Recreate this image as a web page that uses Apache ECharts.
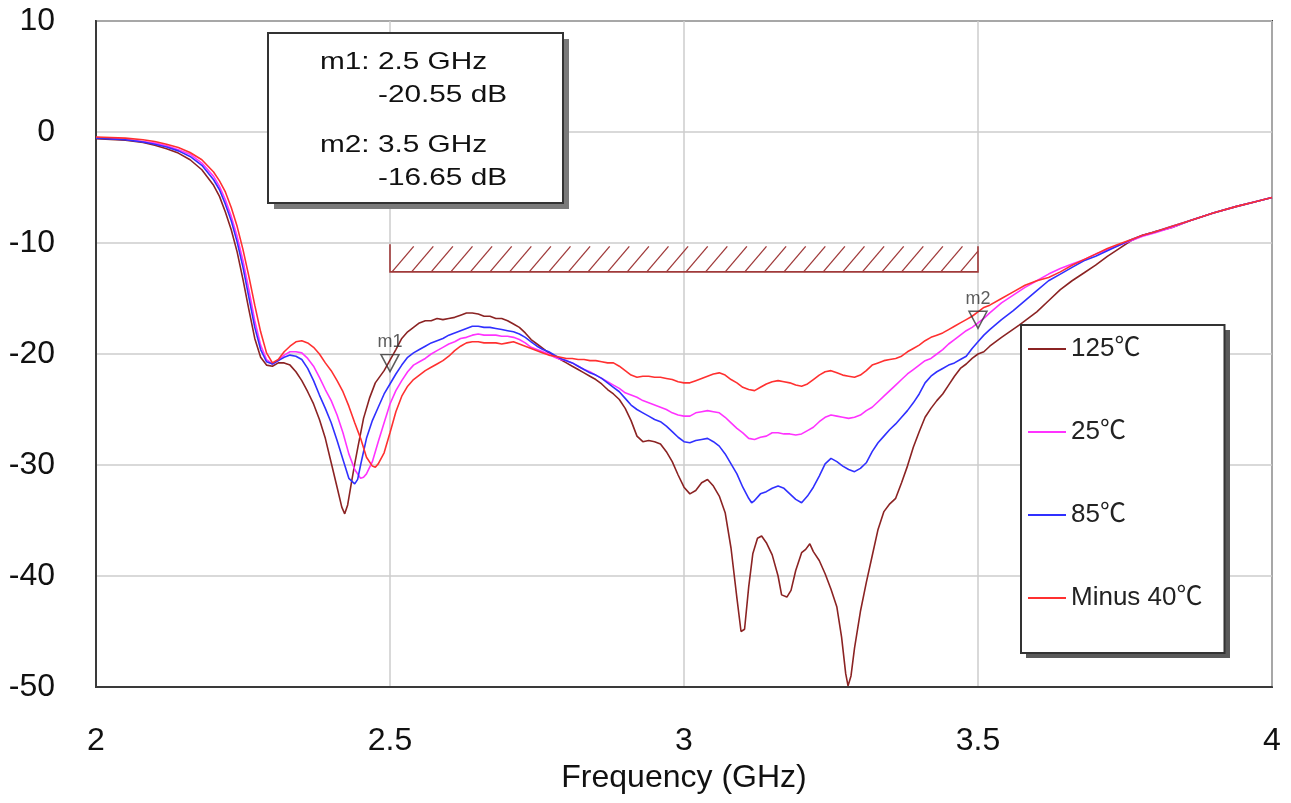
<!DOCTYPE html>
<html>
<head>
<meta charset="utf-8">
<script src="https://cdn.jsdelivr.net/npm/echarts@6/dist/echarts.min.js"></script>
<style>
  html, body { margin: 0; padding: 0; background: #ffffff; }
  #chart { width: 1291px; height: 803px; }
</style>
</head>
<body>
<div id="chart"></div>
<script>
// S11 of the filter over temperature, 2–4 GHz sweep
const FONT = '"Liberation Sans", Arial, "Noto Sans CJK SC", sans-serif';

const seriesNames = ['125℃', '25℃', '85℃', 'Minus 40℃'];
const seriesColors = ['#8b2323', '#ff33ff', '#3030ff', '#ff3030'];

// [frequency GHz, dB]
const s125 = [
  [2.00,-0.60],[2.05,-0.75],[2.08,-0.95],[2.10,-1.2],[2.12,-1.5],[2.14,-1.9],[2.16,-2.5],[2.18,-3.4],
  [2.20,-4.8],[2.21,-5.8],[2.22,-7.2],[2.23,-8.8],[2.24,-10.8],[2.25,-13.3],[2.26,-16.0],[2.27,-18.6],
  [2.28,-20.3],[2.29,-21.0],[2.30,-21.1],[2.31,-20.8],[2.32,-20.8],[2.33,-21.0],[2.34,-21.6],[2.35,-22.4],
  [2.36,-23.4],[2.37,-24.5],[2.38,-25.9],[2.39,-27.6],[2.40,-29.8],[2.41,-32.0],[2.418,-33.8],[2.423,-34.4],
  [2.428,-33.6],[2.435,-31.4],[2.44,-29.9],[2.445,-28.5],[2.455,-25.8],[2.465,-24.0],[2.475,-22.6],[2.49,-21.5],
  [2.50,-20.55],[2.51,-19.6],[2.52,-18.6],[2.53,-18.0],[2.54,-17.6],[2.55,-17.2],[2.56,-17.0],[2.57,-17.0],
  [2.58,-16.8],[2.59,-16.9],[2.60,-16.8],[2.61,-16.7],[2.62,-16.5],[2.63,-16.3],[2.64,-16.3],[2.65,-16.4],
  [2.66,-16.6],[2.67,-16.6],[2.68,-16.8],[2.69,-16.8],[2.70,-17.0],[2.71,-17.3],[2.72,-17.6],[2.73,-18.1],
  [2.74,-18.7],[2.75,-19.1],[2.76,-19.5],[2.77,-19.9],[2.78,-20.2],[2.79,-20.5],[2.80,-20.8],[2.81,-21.1],
  [2.82,-21.4],[2.83,-21.7],[2.84,-22.0],[2.85,-22.3],[2.86,-22.7],[2.87,-23.2],[2.88,-23.6],[2.89,-24.1],
  [2.90,-24.9],[2.91,-26.0],[2.92,-27.4],[2.93,-27.9],[2.94,-27.8],[2.95,-27.9],[2.96,-28.1],[2.97,-28.8],
  [2.98,-29.7],[2.99,-30.9],[3.00,-32.0],[3.01,-32.6],[3.02,-32.3],[3.03,-31.6],[3.04,-31.3],[3.05,-31.9],
  [3.06,-32.8],[3.07,-34.3],[3.08,-37.5],[3.09,-42.0],[3.097,-45.0],[3.103,-44.8],[3.11,-41.0],[3.117,-38.0],
  [3.125,-36.6],[3.132,-36.4],[3.14,-37.0],[3.15,-38.1],[3.16,-40.0],[3.166,-41.7],[3.175,-41.9],[3.182,-41.3],
  [3.19,-39.5],[3.20,-37.9],[3.207,-37.6],[3.214,-37.1],[3.22,-37.8],[3.23,-38.6],[3.24,-39.8],[3.25,-41.2],
  [3.26,-42.8],[3.268,-45.5],[3.275,-48.8],[3.279,-49.9],[3.284,-49.0],[3.29,-46.5],[3.30,-43.2],[3.31,-40.6],
  [3.32,-38.2],[3.33,-35.8],[3.34,-34.2],[3.35,-33.5],[3.36,-33.0],[3.37,-31.6],[3.38,-30.1],[3.39,-28.4],
  [3.40,-27.0],[3.41,-25.7],[3.42,-24.9],[3.43,-24.2],[3.44,-23.6],[3.45,-22.8],[3.46,-22.0],[3.47,-21.3],
  [3.48,-20.9],[3.49,-20.4],[3.50,-20.0],[3.51,-19.8],[3.52,-19.3],[3.54,-18.5],[3.57,-17.4],[3.60,-16.2],
  [3.62,-15.2],[3.64,-14.2],[3.66,-13.4],[3.68,-12.7],[3.70,-12.0],[3.72,-11.2],[3.74,-10.5],[3.76,-9.8],
  [3.78,-9.3],[3.80,-9.0],[3.83,-8.6],[3.86,-8.0],[3.90,-7.3],[3.94,-6.7],[3.97,-6.3],[4.00,-5.9]
];

const s25 = [
  [2.00,-0.5],[2.05,-0.65],[2.08,-0.85],[2.10,-1.0],[2.12,-1.25],[2.14,-1.6],[2.16,-2.0],[2.18,-2.8],
  [2.20,-4.0],[2.21,-4.9],[2.22,-6.1],[2.23,-7.6],[2.24,-9.4],[2.25,-11.6],[2.26,-14.2],[2.27,-17.0],
  [2.28,-19.2],[2.29,-20.5],[2.30,-20.9],[2.31,-20.6],[2.32,-20.1],[2.33,-19.8],[2.34,-19.8],[2.35,-19.9],
  [2.36,-20.4],[2.37,-21.1],[2.38,-22.1],[2.39,-23.2],[2.40,-24.2],[2.41,-25.5],[2.42,-27.1],[2.43,-29.0],
  [2.44,-30.4],[2.45,-31.2],[2.455,-31.1],[2.46,-30.8],[2.47,-29.7],[2.48,-27.9],[2.49,-26.2],[2.50,-24.5],
  [2.51,-23.3],[2.52,-22.4],[2.53,-21.6],[2.54,-21.0],[2.55,-20.7],[2.56,-20.4],[2.57,-20.0],[2.58,-19.7],
  [2.59,-19.4],[2.60,-19.1],[2.61,-18.9],[2.62,-18.6],[2.63,-18.5],[2.64,-18.3],[2.65,-18.2],[2.66,-18.3],
  [2.67,-18.3],[2.68,-18.3],[2.69,-18.4],[2.70,-18.4],[2.71,-18.5],[2.72,-18.7],[2.73,-19.0],[2.74,-19.4],
  [2.75,-19.6],[2.76,-19.8],[2.77,-20.0],[2.78,-20.3],[2.79,-20.5],[2.80,-20.6],[2.81,-20.8],[2.82,-21.1],
  [2.83,-21.4],[2.84,-21.6],[2.85,-21.9],[2.86,-22.2],[2.87,-22.5],[2.88,-22.8],[2.89,-23.1],[2.90,-23.5],
  [2.91,-23.7],[2.92,-23.9],[2.93,-24.2],[2.94,-24.4],[2.95,-24.6],[2.96,-24.8],[2.97,-25.0],[2.98,-25.3],
  [2.99,-25.5],[3.00,-25.6],[3.01,-25.6],[3.02,-25.3],[3.03,-25.2],[3.04,-25.1],[3.05,-25.2],[3.06,-25.3],
  [3.07,-25.7],[3.08,-26.2],[3.09,-26.7],[3.10,-27.1],[3.11,-27.6],[3.12,-27.7],[3.13,-27.5],[3.14,-27.4],
  [3.15,-27.1],[3.16,-27.1],[3.17,-27.2],[3.18,-27.2],[3.19,-27.3],[3.20,-27.2],[3.21,-26.9],[3.22,-26.6],
  [3.23,-26.1],[3.24,-25.7],[3.25,-25.5],[3.26,-25.6],[3.27,-25.7],[3.28,-25.8],[3.29,-25.7],[3.30,-25.5],
  [3.31,-25.1],[3.32,-24.8],[3.33,-24.3],[3.34,-23.8],[3.35,-23.3],[3.36,-22.8],[3.37,-22.3],[3.38,-21.8],
  [3.39,-21.4],[3.40,-21.0],[3.41,-20.6],[3.42,-20.4],[3.43,-20.0],[3.44,-19.6],[3.45,-19.1],[3.46,-18.7],
  [3.47,-18.3],[3.48,-17.9],[3.49,-17.6],[3.50,-17.2],[3.51,-16.8],[3.52,-16.3],[3.54,-15.4],[3.56,-14.7],
  [3.58,-14.0],[3.60,-13.4],[3.62,-12.8],[3.64,-12.3],[3.66,-11.9],[3.68,-11.5],[3.70,-11.0],[3.72,-10.6],
  [3.74,-10.2],[3.76,-9.8],[3.78,-9.4],[3.80,-9.1],[3.83,-8.6],[3.86,-8.0],[3.90,-7.3],[3.94,-6.7],
  [3.97,-6.3],[4.00,-5.9]
];

const s85 = [
  [2.00,-0.55],[2.05,-0.7],[2.08,-0.9],[2.10,-1.1],[2.12,-1.35],[2.14,-1.7],[2.16,-2.2],[2.18,-3.0],
  [2.20,-4.3],[2.21,-5.2],[2.22,-6.5],[2.23,-8.0],[2.24,-9.9],[2.25,-12.2],[2.26,-14.9],[2.27,-17.6],
  [2.28,-19.6],[2.29,-20.7],[2.30,-20.9],[2.31,-20.6],[2.32,-20.3],[2.33,-20.1],[2.34,-20.2],[2.35,-20.5],
  [2.36,-21.3],[2.37,-22.4],[2.38,-23.7],[2.39,-24.9],[2.40,-26.2],[2.41,-27.8],[2.42,-29.5],[2.43,-31.2],
  [2.44,-31.7],[2.445,-31.3],[2.45,-30.0],[2.46,-27.6],[2.47,-26.0],[2.48,-24.8],[2.49,-23.6],[2.50,-22.7],
  [2.51,-21.8],[2.52,-21.0],[2.53,-20.3],[2.54,-19.9],[2.55,-19.6],[2.56,-19.3],[2.57,-19.0],[2.58,-18.8],
  [2.59,-18.6],[2.60,-18.3],[2.61,-18.1],[2.62,-17.9],[2.63,-17.7],[2.64,-17.5],[2.65,-17.5],[2.66,-17.6],
  [2.67,-17.6],[2.68,-17.7],[2.69,-17.8],[2.70,-17.9],[2.71,-18.0],[2.72,-18.2],[2.73,-18.5],[2.74,-18.9],
  [2.75,-19.3],[2.76,-19.6],[2.77,-19.8],[2.78,-20.1],[2.79,-20.4],[2.80,-20.6],[2.81,-20.8],[2.82,-21.1],
  [2.83,-21.4],[2.84,-21.7],[2.85,-21.9],[2.86,-22.2],[2.87,-22.6],[2.88,-23.0],[2.89,-23.4],[2.90,-24.0],
  [2.91,-24.6],[2.92,-25.0],[2.93,-25.3],[2.94,-25.6],[2.95,-25.9],[2.96,-26.1],[2.97,-26.5],[2.98,-27.0],
  [2.99,-27.5],[3.00,-27.9],[3.01,-28.0],[3.02,-27.8],[3.03,-27.7],[3.04,-27.6],[3.05,-27.9],[3.06,-28.3],
  [3.07,-29.0],[3.08,-29.9],[3.09,-30.8],[3.10,-32.0],[3.11,-33.0],[3.115,-33.4],[3.12,-33.2],[3.13,-32.6],
  [3.14,-32.4],[3.15,-32.1],[3.16,-31.9],[3.17,-32.1],[3.18,-32.6],[3.19,-33.1],[3.20,-33.4],[3.21,-32.8],
  [3.22,-32.0],[3.23,-31.0],[3.24,-29.9],[3.25,-29.4],[3.26,-29.7],[3.27,-30.1],[3.28,-30.4],[3.29,-30.6],
  [3.30,-30.3],[3.31,-29.8],[3.32,-28.8],[3.33,-28.0],[3.34,-27.4],[3.35,-26.8],[3.36,-26.3],[3.37,-25.7],
  [3.38,-25.1],[3.39,-24.4],[3.40,-23.6],[3.41,-22.6],[3.42,-22.0],[3.43,-21.6],[3.44,-21.3],[3.45,-21.0],
  [3.46,-20.8],[3.47,-20.5],[3.48,-20.2],[3.49,-19.5],[3.50,-18.9],[3.51,-18.3],[3.52,-17.8],[3.54,-16.9],
  [3.56,-16.1],[3.58,-15.2],[3.60,-14.3],[3.62,-13.4],[3.64,-12.8],[3.66,-12.2],[3.68,-11.6],[3.70,-11.2],
  [3.72,-10.7],[3.74,-10.2],[3.76,-9.7],[3.78,-9.3],[3.80,-9.0],[3.83,-8.5],[3.86,-8.0],[3.90,-7.3],
  [3.94,-6.7],[3.97,-6.3],[4.00,-5.9]
];

const sMinus40 = [
  [2.00,-0.45],[2.05,-0.55],[2.08,-0.7],[2.10,-0.85],[2.12,-1.1],[2.14,-1.4],[2.16,-1.85],[2.18,-2.5],
  [2.20,-3.6],[2.21,-4.4],[2.22,-5.4],[2.23,-6.8],[2.24,-8.5],[2.25,-10.6],[2.26,-13.0],[2.27,-15.6],
  [2.28,-18.0],[2.29,-19.9],[2.30,-20.8],[2.31,-20.5],[2.32,-19.8],[2.33,-19.3],[2.34,-18.9],[2.35,-18.8],
  [2.36,-19.0],[2.37,-19.4],[2.38,-20.0],[2.39,-20.8],[2.40,-21.5],[2.41,-22.4],[2.42,-23.4],[2.43,-24.7],
  [2.44,-26.2],[2.45,-27.6],[2.46,-29.3],[2.47,-30.1],[2.475,-30.2],[2.48,-29.9],[2.49,-28.9],[2.50,-27.1],
  [2.51,-25.2],[2.52,-23.8],[2.53,-22.9],[2.54,-22.3],[2.55,-21.9],[2.56,-21.5],[2.57,-21.2],[2.58,-20.9],
  [2.59,-20.6],[2.60,-20.2],[2.61,-19.7],[2.62,-19.3],[2.63,-19.0],[2.64,-18.9],[2.65,-18.9],[2.66,-19.0],
  [2.67,-19.0],[2.68,-19.0],[2.69,-19.1],[2.70,-19.0],[2.71,-18.9],[2.72,-19.1],[2.73,-19.3],[2.74,-19.5],
  [2.75,-19.7],[2.76,-19.9],[2.77,-20.1],[2.78,-20.2],[2.79,-20.3],[2.80,-20.4],[2.81,-20.4],[2.82,-20.5],
  [2.83,-20.5],[2.84,-20.6],[2.85,-20.6],[2.86,-20.7],[2.87,-20.8],[2.88,-20.8],[2.89,-21.1],[2.90,-21.5],
  [2.91,-21.9],[2.92,-22.1],[2.93,-22.0],[2.94,-22.0],[2.95,-22.1],[2.96,-22.1],[2.97,-22.2],[2.98,-22.3],
  [2.99,-22.5],[3.00,-22.6],[3.01,-22.6],[3.02,-22.4],[3.03,-22.2],[3.04,-22.0],[3.05,-21.8],[3.06,-21.7],
  [3.07,-21.9],[3.08,-22.3],[3.09,-22.6],[3.10,-23.0],[3.11,-23.2],[3.12,-23.3],[3.13,-23.0],[3.14,-22.7],
  [3.15,-22.5],[3.16,-22.4],[3.17,-22.5],[3.18,-22.6],[3.19,-22.8],[3.20,-22.9],[3.21,-22.7],[3.22,-22.3],
  [3.23,-21.9],[3.24,-21.6],[3.25,-21.5],[3.26,-21.7],[3.27,-21.9],[3.28,-22.0],[3.29,-22.1],[3.30,-21.9],
  [3.31,-21.5],[3.32,-21.0],[3.33,-20.8],[3.34,-20.6],[3.35,-20.5],[3.36,-20.4],[3.37,-20.2],[3.38,-19.8],
  [3.39,-19.5],[3.40,-19.2],[3.41,-18.8],[3.42,-18.5],[3.43,-18.3],[3.44,-18.1],[3.45,-17.8],[3.46,-17.5],
  [3.47,-17.2],[3.48,-16.9],[3.49,-16.6],[3.50,-16.2],[3.51,-15.8],[3.52,-15.6],[3.54,-15.0],[3.56,-14.4],
  [3.58,-13.8],[3.60,-13.4],[3.62,-13.1],[3.64,-12.6],[3.66,-12.0],[3.68,-11.5],[3.70,-11.0],[3.72,-10.5],
  [3.74,-10.1],[3.76,-9.7],[3.78,-9.3],[3.80,-9.0],[3.83,-8.5],[3.86,-8.0],[3.90,-7.3],[3.94,-6.7],
  [3.97,-6.3],[4.00,-5.9]
];

// Markers
const markerNames = ['m1', 'm2'];
const markerFreq = [2.5, 3.5];
const markerDb = [-20.55, -16.65];

// Return-loss spec mask: [fStart, fStop, lower dB, upper dB]
const maskBand = [2.5, 3.5, -12.6, -10.3];

const seriesData = [s125, s25, s85, sMinus40];

const chart = echarts.init(document.getElementById('chart'), null, { renderer: 'canvas' });

// Hatched mask drawn in data coordinates
function renderMask(params, api) {
  const bl = api.coord([api.value(0), api.value(2)]);
  const tr = api.coord([api.value(1), api.value(3)]);
  const x0 = bl[0], yb = bl[1], x1 = tr[0], yt = tr[1];
  const color = '#a03a3a';
  const children = [{
    type: 'polyline',
    shape: { points: [[x0, yt - 2], [x0, yb], [x1, yb], [x1, yt]] },
    style: { stroke: color, lineWidth: 1.6, fill: null }
  }];
  const h = yb - yt;
  const dx = h * 0.85;
  const step = 19.6;
  for (let x = x0 + 2; x < x1; x += step) {
    let xe = x + dx, ye = yt;
    if (xe > x1) { ye = yb - h * (x1 - x) / dx; xe = x1; }
    children.push({
      type: 'line',
      shape: { x1: x, y1: yb, x2: xe, y2: ye },
      style: { stroke: color, lineWidth: 1.3 }
    });
  }
  return { type: 'group', children };
}

const lineSeries = seriesNames.map((name, i) => ({
  name,
  type: 'line',
  data: seriesData[i],
  showSymbol: false,
  symbol: 'none',
  smooth: false,
  lineStyle: { color: seriesColors[i], width: 1.6 },
  itemStyle: { color: seriesColors[i] },
  z: 3
}));

const markerPoints = markerNames.map((n, i) => ({ name: n, value: [markerFreq[i], markerDb[i]] }));

// Marker readout box (pixel placement)
const boxLeft = 268, boxTop = 33, boxW = 295, boxH = 170;
const BOX_Z = 100;
const boxTexts = [];
markerNames.forEach((n, i) => {
  boxTexts.push({
    type: 'text', x: boxLeft + 52, y: boxTop + 29 + i * 83, scaleX: 1.24, z: BOX_Z + 2,
    style: { text: n + ': ' + String(markerFreq[i]) + ' GHz', font: '24px ' + FONT, fill: '#111',
             textAlign: 'left', textVerticalAlign: 'middle' }
  });
  boxTexts.push({
    type: 'text', x: boxLeft + 110, y: boxTop + 62 + i * 83, scaleX: 1.24, z: BOX_Z + 2,
    style: { text: markerDb[i].toFixed(2) + ' dB', font: '24px ' + FONT, fill: '#111',
             textAlign: 'left', textVerticalAlign: 'middle' }
  });
});

// Legend frame geometry (the legend component draws the white box on top of this shadow)
const legLeft = 1021, legTop = 325, legW = 204, legH = 328;

const option = {
  animation: false,
  backgroundColor: '#ffffff',
  grid: {
    left: 96, right: 19, top: 21, bottom: 116,
    show: true, borderColor: '#3a3a3a', borderWidth: 2, backgroundColor: 'transparent'
  },
  legend: {
    data: seriesNames,
    orient: 'vertical',
    left: legLeft, top: legTop,
    icon: 'rect',
    itemWidth: 38, itemHeight: 2,
    itemGap: 53,
    padding: [9, 22, 40, 7],
    backgroundColor: '#ffffff',
    borderColor: '#333333',
    borderWidth: 2,
    selectedMode: false,
    z: 50,
    textStyle: { fontFamily: FONT, fontSize: 26, color: '#222', lineHeight: 30 }
  },
  xAxis: {
    type: 'value', min: 2, max: 4, interval: 0.5,
    name: 'Frequency (GHz)', nameLocation: 'middle', nameGap: 75,
    nameTextStyle: { fontFamily: FONT, fontSize: 32, color: '#111' },
    axisLine: { show: true, onZero: false, lineStyle: { color: '#3a3a3a', width: 2 } },
    axisTick: { show: false },
    axisLabel: { fontFamily: FONT, fontSize: 32, color: '#111', margin: 38 },
    splitLine: { show: true, lineStyle: { color: '#cccccc', width: 1.5 } }
  },
  yAxis: {
    type: 'value', min: -50, max: 10, interval: 10,
    axisLine: { show: true, onZero: false, lineStyle: { color: '#3a3a3a', width: 2 } },
    axisTick: { show: false },
    axisLabel: { fontFamily: FONT, fontSize: 32, color: '#111', margin: 41 },
    splitLine: { show: true, lineStyle: { color: '#cccccc', width: 1.5 } }
  },
  series: [
    {
      name: 'mask', type: 'custom', coordinateSystem: 'cartesian2d',
      renderItem: renderMask,
      data: [maskBand],
      encode: { x: [0, 1], y: [2, 3] },
      silent: true, z: 2
    },
    ...lineSeries,
    {
      name: 'markers', type: 'scatter',
      data: markerPoints,
      symbol: 'path://M0,0L20,0L10,18Z',
      symbolSize: [18, 17],
      symbolOffset: [0, 3],
      itemStyle: { color: 'rgba(255,255,255,0)', borderColor: '#333', borderWidth: 1.5 },
      label: { show: true, position: 'top', distance: 3, formatter: '{b}',
               fontFamily: FONT, fontSize: 18, color: '#333' },
      silent: true, z: 5
    }
  ],
  graphic: [
    {
      type: 'text', x: 680, y: -13, z: BOX_Z, silent: true,
      style: { text: 'S11', font: 'bold 30px ' + FONT, fill: '#555', textAlign: 'center', textVerticalAlign: 'middle' }
    },
    { type: 'rect', z: BOX_Z, silent: true,
      shape: { x: boxLeft + 6, y: boxTop + 6, width: boxW, height: boxH }, style: { fill: '#7a7a7a' } },
    { type: 'rect', z: BOX_Z + 1, silent: true,
      shape: { x: boxLeft, y: boxTop, width: boxW, height: boxH },
      style: { fill: '#ffffff', stroke: '#333333', lineWidth: 2 } },
    ...boxTexts,
    { type: 'rect', z: 40, silent: true,
      shape: { x: legLeft + 5, y: legTop + 5, width: legW, height: legH }, style: { fill: '#5a5a5a' } }
  ]
};

chart.setOption(option);
</script>
</body>
</html>
